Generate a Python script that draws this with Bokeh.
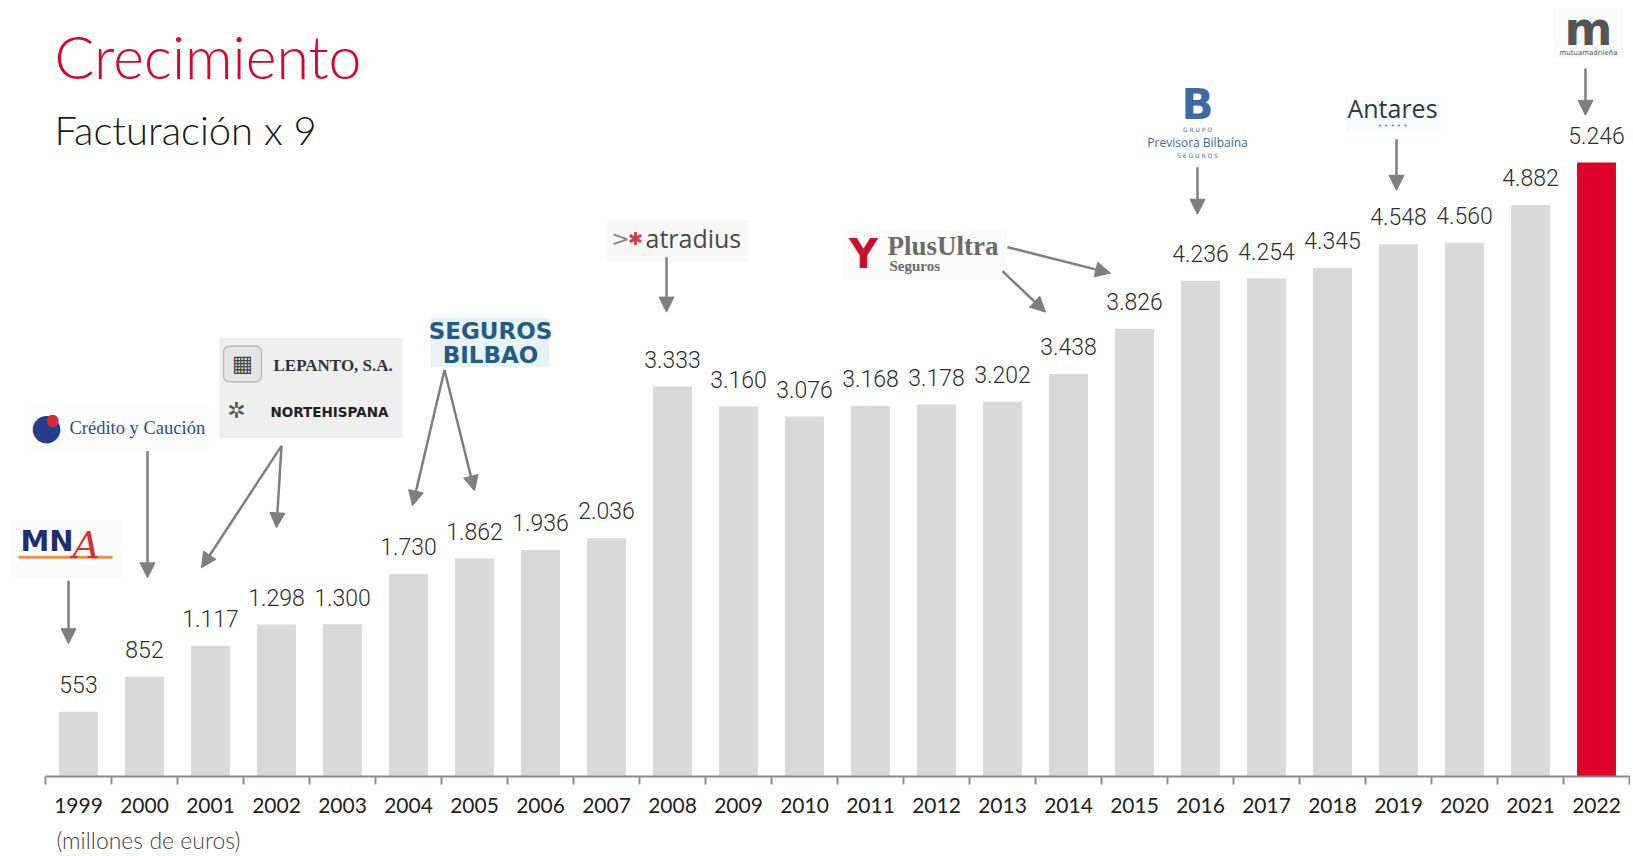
from bokeh.plotting import figure
from bokeh.models import (Range1d, FixedTicker, Label, Arrow, NormalHead, BoxAnnotation,
                          LinearAxis)
from bokeh.core.properties import value
from bokeh.embed import file_html
from bokeh.resources import INLINE

# ---------------- data ----------------
years = list(range(1999, 2023))
revenue = [553, 852, 1117, 1298, 1300, 1730, 1862, 1936, 2036, 3333, 3160, 3076,
           3168, 3178, 3202, 3438, 3826, 4236, 4254, 4345, 4548, 4560, 4882, 5246]
year_labels = [str(y) for y in years]
value_labels = [f"{v:,}".replace(",", ".") for v in revenue]

title_text = "Crecimiento"
subtitle_text = "Facturación x 9"
unit_text = "(millones de euros)"

# ---------------- styles / layout ----------------
RED = "#DF0029"
GRAY_BAR = "#D9D9D9"
AXIS_GRAY = "#8C8C8C"
ARROW_GRAY = "#7F7F7F"
bar_colors = [RED if y == years[-1] else GRAY_BAR for y in years]

W, H = 1630, 856
AXIS_Y = 777          # page pixel row of the x axis
AXIS_X0 = 45          # page pixel column of the first category boundary
PXY = 66.0            # pixels per category
PX_PER_UNIT = 0.1172  # pixels per million euros
X0 = years[0] - 0.5 - AXIS_X0 / PXY
Y_MAX = AXIS_Y / PX_PER_UNIT
BASE_FIX = 0.40       # rendered alphabetic baseline sits ~0.4em low


def X(sx):
    return X0 + sx / PXY


def Y(sy):
    return (AXIS_Y - sy) / PX_PER_UNIT


p = figure(width=W, height=H, x_range=Range1d(X0, X0 + W / PXY),
           y_range=Range1d(0, Y_MAX), output_backend="svg", toolbar_location=None,
           y_axis_location=None, min_border_left=0, min_border_right=0,
           min_border_top=0, min_border_bottom=H - AXIS_Y)
p.outline_line_color = None
p.grid.visible = False
p.background_fill_color = "white"
p.border_fill_color = "white"

p.vbar(x=years, top=revenue, width=0.59, fill_color=bar_colors, line_color=None)

VAL_SIZE = 23
p.text(x=years, y=revenue, text=value_labels, y_offset=-(18 + BASE_FIX * VAL_SIZE),
       text_align="center", text_baseline="alphabetic",
       text_font=value("Roboto Light"), text_font_size=f"{VAL_SIZE}px", text_color="#2E2E2E")

ax = p.xaxis[0]
ax.bounds = (years[0] - 0.5, years[-1] + 0.5)
ax.ticker = FixedTicker(ticks=years, minor_ticks=[y - 0.5 for y in years] + [years[-1] + 0.5])
ax.major_label_overrides = {y: s for y, s in zip(years, year_labels)}
ax.major_tick_out = 0
ax.major_tick_in = 0
ax.minor_tick_out = 8
ax.minor_tick_in = 0
ax.minor_tick_line_color = AXIS_GRAY
ax.minor_tick_line_width = 2
ax.axis_line_color = AXIS_GRAY
ax.axis_line_width = 2
ax.major_label_standoff = 13
ax.major_label_text_font = "Lato"
ax.major_label_text_font_size = "21px"
ax.major_label_text_color = "#222222"

# unit note as a second, line-less axis under the year axis
UNIT_X = 2000.06
unit_axis = LinearAxis(ticker=FixedTicker(ticks=[UNIT_X]),
                       major_label_overrides={UNIT_X: unit_text},
                       axis_line_color=None, major_tick_line_color=None,
                       minor_tick_line_color=None, major_tick_out=0, major_tick_in=0,
                       minor_tick_out=0, minor_tick_in=0, major_label_standoff=10,
                       major_label_text_font="Lato Light",
                       major_label_text_font_size="23px",
                       major_label_text_color="#444444")
p.add_layout(unit_axis, "below")


def label(sx, sy, text, size, color, font="Lato", style="normal", align="left"):
    p.add_layout(Label(x=X(sx), y=Y(sy - BASE_FIX * size), text=text, text_font=font,
                       text_font_size=f"{size}px", text_color=color,
                       text_font_style=style, text_align=align,
                       text_baseline="alphabetic"))


def box(l, t, r, b, color, line=None, radius=0):
    p.add_layout(BoxAnnotation(left=X(l), right=X(r), top=Y(t), bottom=Y(b),
                               fill_color=color, fill_alpha=1.0, line_color=line,
                               line_width=1.5, border_radius=radius, level="underlay"))


# titles
label(54, 80, title_text, 59, RED, font="Lato Light")
label(54, 146, subtitle_text, 40, "#1A1A1A", font="Lato Light")

# ---------------- logos (as text) ----------------
# MNA
box(10, 520, 122, 578, "#FBFBFB")
label(20, 553, "MN", 29, "#1D2F6F", font="DejaVu Sans", style="bold")
label(72, 560, "A", 38, "#D32F2F", font="DejaVu Serif", style="italic")
box(18, 556, 112, 559, "#F0903C")
# Crédito y Caución
box(28, 405, 208, 450, "#FCFCFC")
label(46, 441, "●", 36, "#233F8C", font="DejaVu Sans", align="center")
label(52, 426, "●", 16, "#D6283A", font="DejaVu Sans", align="center")
label(69, 435, "Crédito y Caución", 18.5, "#2D4F8F", font="Liberation Serif")
# Lepanto / Nortehispana
box(219, 338, 402, 438, "#EFEFEF")
box(223, 346, 261, 382, "#E4E4E4", line="#555555", radius=6)
label(242, 372, "▦", 22, "#444444", font="DejaVu Sans", align="center")
label(273, 372, "LEPANTO, S.A.", 17, "#333333", font="Liberation Serif", style="bold")
label(236, 419, "✲", 22, "#555555", font="DejaVu Sans", align="center")
label(270, 417, "NORTEHISPANA", 13.5, "#222222", font="DejaVu Sans", style="bold")
# Seguros Bilbao
box(430, 318, 549, 367, "#E9F2F9")
label(490, 340, "SEGUROS", 23, "#235A86", font="DejaVu Sans", style="bold", align="center")
label(490, 364, "BILBAO", 23, "#235A86", font="DejaVu Sans", style="bold", align="center")
# Atradius
box(606, 220, 747, 262, "#F8F8F8")
label(620, 247, ">", 22, "#888888", font="DejaVu Sans", align="center")
label(635, 246, "✱", 18, "#D4384A", font="DejaVu Sans", align="center")
label(645, 248, "atradius", 25, "#4A4A4A", font="Open Sans")
# Plus Ultra
box(842, 230, 1006, 280, "#FBFBFB")
label(863, 270, "Y", 40, "#C8102E", font="DejaVu Sans", style="bold", align="center")
label(887, 257, "PlusUltra", 27, "#6B6B6B", font="Liberation Serif", style="bold")
label(889, 272, "Seguros", 15, "#6B6B6B", font="Liberation Serif", style="bold")
# Previsora Bilbaína
label(1197, 121, "B", 42, "#3D6AA6", font="DejaVu Sans", style="bold", align="center")
label(1197, 132, "G R U P O", 6, "#3D6AA6", font="DejaVu Sans", align="center")
label(1197, 147, "Previsora Bilbaína", 12, "#3D6AA6", font="Open Sans", align="center")
label(1197, 158, "S E G U R O S", 6, "#3D6AA6", font="DejaVu Sans", align="center")
# Antares
box(1345, 96, 1440, 132, "#F7FBFB")
label(1392, 118, "Antares", 25, "#2E3B3B", font="Open Sans", align="center")
label(1392, 128, "• • • • •", 7, "#5C8A8A", font="DejaVu Sans", align="center")
# Mutua
box(1553, 8, 1622, 58, "#FAFAFA")
label(1588, 47, "m", 46, "#555555", font="DejaVu Sans", style="bold", align="center")
label(1588, 55, "mutuamadrileña", 7, "#555555", font="DejaVu Sans", align="center")

# ---------------- arrows ----------------
arrows = [
    (68, 581, 68, 644),
    (147, 451, 147, 578),
    (281, 446, 201, 568),
    (281, 446, 276, 528),
    (444, 370, 412, 506),
    (444, 370, 474, 491),
    (666, 257, 666, 312),
    (1002, 271, 1045, 312),
    (1007, 247, 1110, 273),
    (1197, 167, 1197, 214),
    (1396, 139, 1396, 190),
    (1585, 68, 1585, 115),
]
for x0, y0, x1, y1 in arrows:
    p.add_layout(Arrow(x_start=X(x0), y_start=Y(y0), x_end=X(x1), y_end=Y(y1),
                       line_color=ARROW_GRAY, line_width=2.5,
                       end=NormalHead(size=15, fill_color=ARROW_GRAY,
                                      line_color=ARROW_GRAY, line_width=1)))

open("out.html", "w").write(file_html(p, INLINE))
